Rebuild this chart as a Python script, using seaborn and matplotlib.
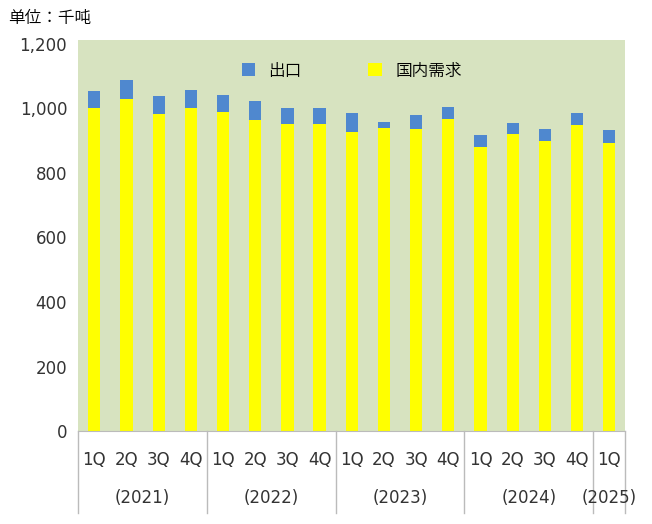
import matplotlib
matplotlib.use("Agg")
import matplotlib.pyplot as plt
import seaborn as sns
import pandas as pd
from matplotlib import font_manager as fm
from matplotlib.transforms import blended_transform_factory

cjk_path = None
for f in fm.fontManager.ttflist:
    if "CJK" in f.name and ("SC" in f.name or cjk_path is None):
        cjk_path = f.fname
        if "SC" in f.name:
            break
if cjk_path is None:
    for p in fm.findSystemFonts():
        if "CJK" in p or "cjk" in p.lower():
            cjk_path = p
            break
cjk = fm.FontProperties(fname=cjk_path, size=12) if cjk_path else fm.FontProperties(family="Noto Sans CJK SC", size=12)

quarters = ["1Q", "2Q", "3Q", "4Q"] * 4 + ["1Q"]
years = ["(2021)", "(2022)", "(2023)", "(2024)", "(2025)"]
group_sizes = [4, 4, 4, 4, 1]
domestic = [1001, 1029, 983, 1001, 989, 964, 952, 952, 927, 940, 936, 967, 881, 921, 899, 949, 893]
export = [53, 59, 56, 56, 53, 59, 49, 49, 59, 18, 44, 38, 37, 34, 37, 37, 40]

idx = list(range(len(quarters)))
df = pd.DataFrame({"i": idx, "total": [d + e for d, e in zip(domestic, export)], "dom": domestic})

fig = plt.figure(figsize=(6.52, 5.24), dpi=100)
ax = fig.add_axes([0.12, 0.177, 0.839, 0.747])
ax.set_facecolor("#d7e3c0")
blue, yellow = "#4f88cf", "#ffff00"
sns.barplot(data=df, x="i", y="total", color=blue, width=0.38, ax=ax, saturation=1, label="出口")
sns.barplot(data=df, x="i", y="dom", color=yellow, width=0.38, ax=ax, saturation=1, label="国内需求")
ax.set_ylim(0, 1212)
ax.set_xlim(-0.5, len(idx) - 0.5)
ax.set_yticks(range(0, 1201, 200))
ax.set_yticklabels([f"{v:,}" for v in range(0, 1201, 200)], fontsize=12, color="#333333")
ax.set_xticks(idx)
ax.set_xticklabels(quarters, fontsize=12, color="#333333")
ax.tick_params(axis="both", length=0, pad=8)
ax.tick_params(axis="x", pad=14)
ax.set_xlabel(""); ax.set_ylabel("")
for s in ["top", "right", "left"]:
    ax.spines[s].set_visible(False)
ax.spines["bottom"].set_color("#bbbbbb")

tr = blended_transform_factory(ax.transData, ax.transAxes)
pos = -0.5
bounds = [pos]
for y, n in zip(years, group_sizes):
    ax.text(pos + n / 2, -0.17, y, transform=tr, ha="center", va="center", fontsize=12, color="#333333")
    pos += n
    bounds.append(pos)
for b in bounds:
    ax.plot([b, b], [0, -0.21], transform=tr, color="#bbbbbb", lw=1, clip_on=False)

ax.legend(loc="upper center", bbox_to_anchor=(0.5, 0.98), ncol=2, frameon=False,
          prop=cjk, handlelength=0.8, handleheight=0.8, columnspacing=4)
fig.text(0.012, 0.965, "单位：千吨", fontproperties=cjk, ha="left", va="center")
fig.savefig("out.png", dpi=100)
